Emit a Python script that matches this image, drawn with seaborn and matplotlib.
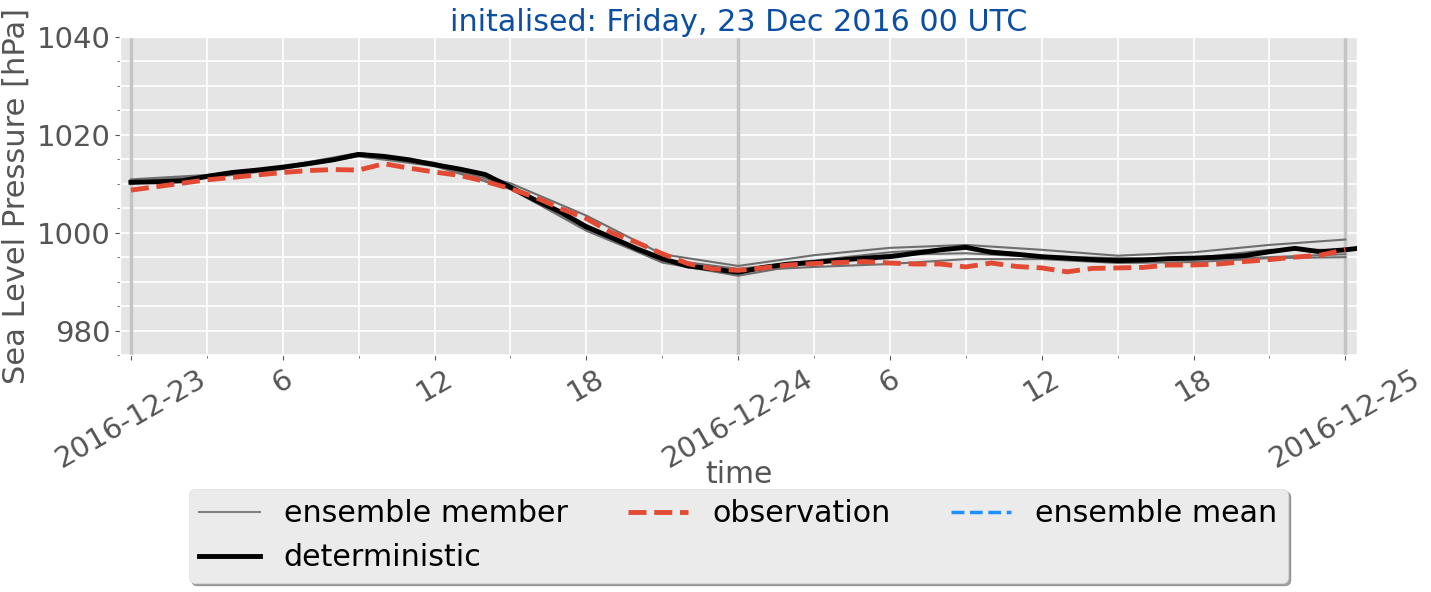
import numpy as np
import pandas as pd
import matplotlib
matplotlib.use("Agg")
import matplotlib.pyplot as plt
import matplotlib.dates as mdates
from matplotlib.ticker import MultipleLocator, FuncFormatter
from matplotlib.lines import Line2D
import seaborn as sns

# ---------------- data ----------------
start = pd.Timestamp("2016-12-23 00:00")

det_hours = list(range(0, 50))
det_values = [1010.3, 1010.4, 1010.6, 1011.5, 1012.3, 1012.8, 1013.4, 1014.1, 1014.9, 1016.0,
              1015.6, 1014.9, 1013.9, 1013.0, 1011.9, 1009.3, 1006.6, 1004.2, 1001.2, 999.0,
              996.7, 994.7, 993.2, 992.6, 991.9, 992.9, 993.6, 993.9, 994.4, 994.8,
              995.1, 995.8, 996.5, 997.0, 996.0, 995.6, 995.1, 994.8, 994.5, 994.3,
              994.4, 994.7, 994.8, 995.0, 995.3, 996.1, 996.8, 996.1, 996.5, 997.1]

obs_hours = list(range(0, 49))
obs_values = [1008.7, 1009.4, 1010.1, 1010.8, 1011.3, 1011.8, 1012.3, 1012.7, 1012.9, 1012.8,
              1014.1, 1013.2, 1012.4, 1011.7, 1010.5, 1009.0, 1007.2, 1004.9, 1002.9, 1000.0,
              998.0, 995.7, 993.7, 992.6, 992.3, 992.8, 993.4, 993.7, 993.9, 994.1,
              993.8, 993.6, 993.6, 993.0, 993.8, 993.1, 992.8, 992.0, 992.7, 992.8,
              992.9, 993.4, 993.4, 993.6, 994.1, 994.5, 995.0, 995.4, 996.5]

ens_hours = list(range(0, 49, 3))
member_a = [1010.9, 1011.8, 1013.5, 1016.3, 1014.3, 1010.1, 1003.5, 995.6, 993.2,
            995.4, 996.9, 997.5, 996.5, 995.3, 996.0, 997.5, 998.6]
member_b = [1010.5, 1011.6, 1013.3, 1016.0, 1014.0, 1009.6, 1001.6, 994.6, 992.6,
            994.3, 996.0, 996.9, 995.2, 994.8, 994.8, 996.5, 996.5]
member_c = [1010.2, 1011.4, 1013.1, 1015.8, 1013.8, 1008.9, 1000.8, 993.9, 991.2,
            993.9, 995.5, 995.8, 995.0, 994.2, 994.5, 995.0, 995.6]
member_d = [1010.0, 1011.2, 1013.0, 1015.6, 1013.6, 1009.0, 1000.4, 994.0, 992.2,
            993.0, 993.6, 994.6, 994.6, 993.8, 994.0, 994.8, 995.0]
members = {"m1": member_a, "m2": member_b, "m3": member_c, "m4": member_d}

day_lines_hours = [0, 24, 48]
title_text = "initalised: Friday, 23 Dec 2016 00 UTC"
legend_labels = ["ensemble member", "deterministic", "observation", "ensemble mean"]

# ---------------- frames ----------------
def to_time(hours):
    return [start + pd.Timedelta(hours=h) for h in hours]

det_df = pd.DataFrame({"time": to_time(det_hours), "slp": det_values})
obs_df = pd.DataFrame({"time": to_time(obs_hours), "slp": obs_values})
ens_df = pd.concat([pd.DataFrame({"time": to_time(ens_hours), "slp": v, "member": k})
                    for k, v in members.items()], ignore_index=True)

# ---------------- plot ----------------
plt.style.use("ggplot")
fig = plt.figure(figsize=(14.31, 5.92), dpi=100)
ax = fig.add_axes([120 / 1431, 1 - 355 / 592, (1357 - 120) / 1431, (355 - 37) / 592])

for h in day_lines_hours:
    ax.axvline(start + pd.Timedelta(hours=h), color="#c4c4c4", lw=2.5, zorder=1.5)

sns.lineplot(data=ens_df, x="time", y="slp", units="member", estimator=None,
             color="#6e6e6e", lw=1.5, ax=ax, legend=False, zorder=2)
sns.lineplot(data=det_df, x="time", y="slp", color="black", lw=3.5, ax=ax,
             legend=False, zorder=3)
sns.lineplot(data=obs_df, x="time", y="slp", color="#E24A33", lw=3.5,
             linestyle="--", ax=ax, legend=False, zorder=4)

ax.set_ylim(975, 1040)
ax.yaxis.set_major_locator(MultipleLocator(20))
ax.yaxis.set_minor_locator(MultipleLocator(5))

xmin = start + pd.Timedelta(hours=-0.43)
xmax = start + pd.Timedelta(hours=48.46)
ax.set_xlim(xmin, xmax)
ax.xaxis.set_major_locator(mdates.HourLocator(byhour=[0, 6, 12, 18]))
ax.xaxis.set_minor_locator(mdates.HourLocator(byhour=[3, 9, 15, 21]))

def fmt(x, pos):
    d = mdates.num2date(x)
    if d.hour == 0:
        return d.strftime("%Y-%m-%d")
    return str(d.hour)

ax.xaxis.set_major_formatter(FuncFormatter(fmt))

ax.grid(which="major", color="white", lw=1.2)
ax.grid(which="minor", color="white", lw=1.2)
ax.set_axisbelow(True)

ax.tick_params(axis="both", which="major", labelsize=21, colors="#555555")
ax.tick_params(axis="both", which="minor", colors="#555555")
for lab in ax.get_xticklabels():
    lab.set_rotation(30)
    lab.set_ha("center")

ax.set_xlabel("time", fontsize=21.5, color="#555555")
ax.xaxis.label.set_va("baseline")
ax.xaxis.set_label_coords(0.5, (355 - 483) / 318)
ax.set_ylabel("Sea Level Pressure [hPa]", fontsize=22, color="#555555")
ax.set_title(title_text, fontsize=21.7, color="#0b4ea2", pad=4)

handles = [
    Line2D([], [], color="#808080", lw=1.5),
    Line2D([], [], color="black", lw=3.5),
    Line2D([], [], color="#E24A33", lw=3.5, linestyle="--"),
    Line2D([], [], color="dodgerblue", lw=2.5, linestyle="--"),
]
leg = ax.legend(handles, legend_labels, ncol=3, loc="upper center",
                bbox_to_anchor=(0.5, -0.421), borderaxespad=0, fontsize=21.7,
                shadow=True, fancybox=True, frameon=True, borderpad=0.35)
leg.get_frame().set_facecolor("#ebebeb")
leg.get_frame().set_alpha(1.0)
leg.get_frame().set_edgecolor("#dddddd")

fig.savefig("out.png", dpi=100)
